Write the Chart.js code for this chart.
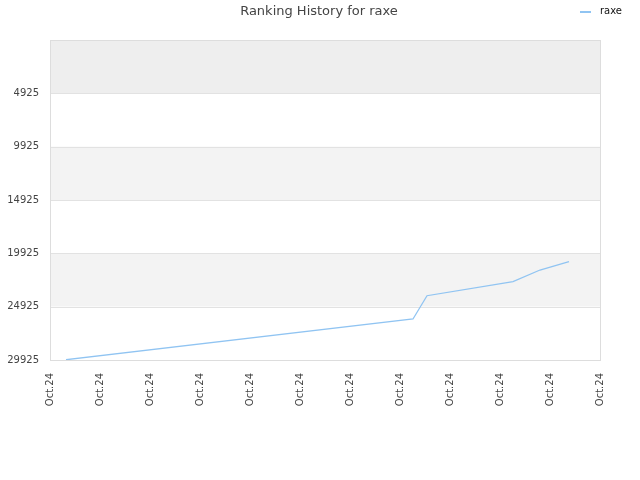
<!DOCTYPE html>
<html><head><meta charset="utf-8">
<script src="https://cdn.jsdelivr.net/npm/chart.js@4"></script>
<style>html,body{margin:0;padding:0;background:#fff}#wrap{width:640px;height:480px}</style>
</head><body><div id="wrap"><canvas id="c" width="640" height="480"></canvas></div>
<script>
const titleText = "Ranking History for raxe";
const seriesName = "raxe";
const xTickLabels = ["Oct.24","Oct.24","Oct.24","Oct.24","Oct.24","Oct.24","Oct.24","Oct.24","Oct.24","Oct.24","Oct.24","Oct.24"];
const yTicks = [4925, 9925, 14925, 19925, 24925, 29925];
const yMin = -75, yMax = 29925;
const xPos = [0.32, 7.26, 7.54, 9.26, 9.8, 10.38];
const ranks = [29900, 26080, 23900, 22580, 21490, 20710];

const FONT = "'DejaVu Sans', sans-serif";
const bandColors = ["#eeeeee", "#ffffff", "#f3f3f3", "#ffffff", "#f3f3f3", "#ffffff"];

const deco = {
  id: 'deco',
  beforeDatasetsDraw(chart) {
    const {ctx, chartArea: a, scales: {y}} = chart;
    ctx.save();
    const bounds = [yMin].concat(yTicks);
    for (let i = 0; i < bounds.length - 1; i++) {
      const p1 = y.getPixelForValue(bounds[i]), p2 = y.getPixelForValue(bounds[i+1]);
      ctx.fillStyle = bandColors[i];
      ctx.fillRect(a.left, p1, a.right - a.left, p2 - p1);
    }
    ctx.strokeStyle = "#e2e2e2"; ctx.lineWidth = 1;
    yTicks.forEach(v => { const p = Math.round(y.getPixelForValue(v)) + 0.5; ctx.beginPath(); ctx.moveTo(a.left, p); ctx.lineTo(a.right, p); ctx.stroke(); });
    ctx.strokeStyle = "#dddddd";
    ctx.strokeRect(a.left + 0.5, a.top + 0.5, a.right - a.left, a.bottom - a.top);
    ctx.restore();
  },
  afterDraw(chart) {
    const ctx = chart.ctx;
    ctx.save();
    ctx.fillStyle = "#444";
    ctx.font = "13px " + FONT;
    ctx.textAlign = "center"; ctx.textBaseline = "middle";
    ctx.fillText(titleText, 319, 12);
    ctx.strokeStyle = "#90c4f2"; ctx.lineWidth = 2;
    ctx.beginPath(); ctx.moveTo(580, 12); ctx.lineTo(591, 12); ctx.stroke();
    ctx.fillStyle = "#111"; ctx.font = "10px " + FONT; ctx.textAlign = "left";
    ctx.fillText(seriesName, 600, 11);
    ctx.restore();
  }
};

new Chart(document.getElementById('c'), {
  type: 'line',
  data: { datasets: [{ label: seriesName, data: xPos.map((x, i) => ({x, y: ranks[i]})), borderColor: "#90c4f2", borderWidth: 1.3, pointRadius: 0, fill: false, tension: 0 }] },
  options: {
    responsive: false, animation: false,
    layout: { padding: { top: 40, right: 40, left: 0, bottom: 0 } },
    plugins: { legend: { display: false }, title: { display: false }, tooltip: { enabled: false } },
    scales: {
      x: {
        type: 'linear', min: 0, max: 11,
        afterBuildTicks: s => { s.ticks = xTickLabels.map((_, i) => ({value: i})); },
        afterFit: s => { s.height = 120; },
        grid: { display: false, drawTicks: false },
        border: { display: false },
        ticks: { autoSkip: false, minRotation: 90, maxRotation: 90, padding: 13, color: "#444", font: { family: FONT, size: 10 }, callback: (v, i) => xTickLabels[i] }
      },
      y: {
        type: 'linear', reverse: true, min: yMin, max: yMax,
        afterBuildTicks: s => { s.ticks = yTicks.map(v => ({value: v})); },
        afterFit: s => { s.width = 50; },
        grid: { display: false, drawTicks: false },
        border: { display: false },
        ticks: { padding: 11, color: "#444", font: { family: FONT, size: 10 }, callback: v => String(v) }
      }
    }
  },
  plugins: [deco]
});
</script></body></html>
